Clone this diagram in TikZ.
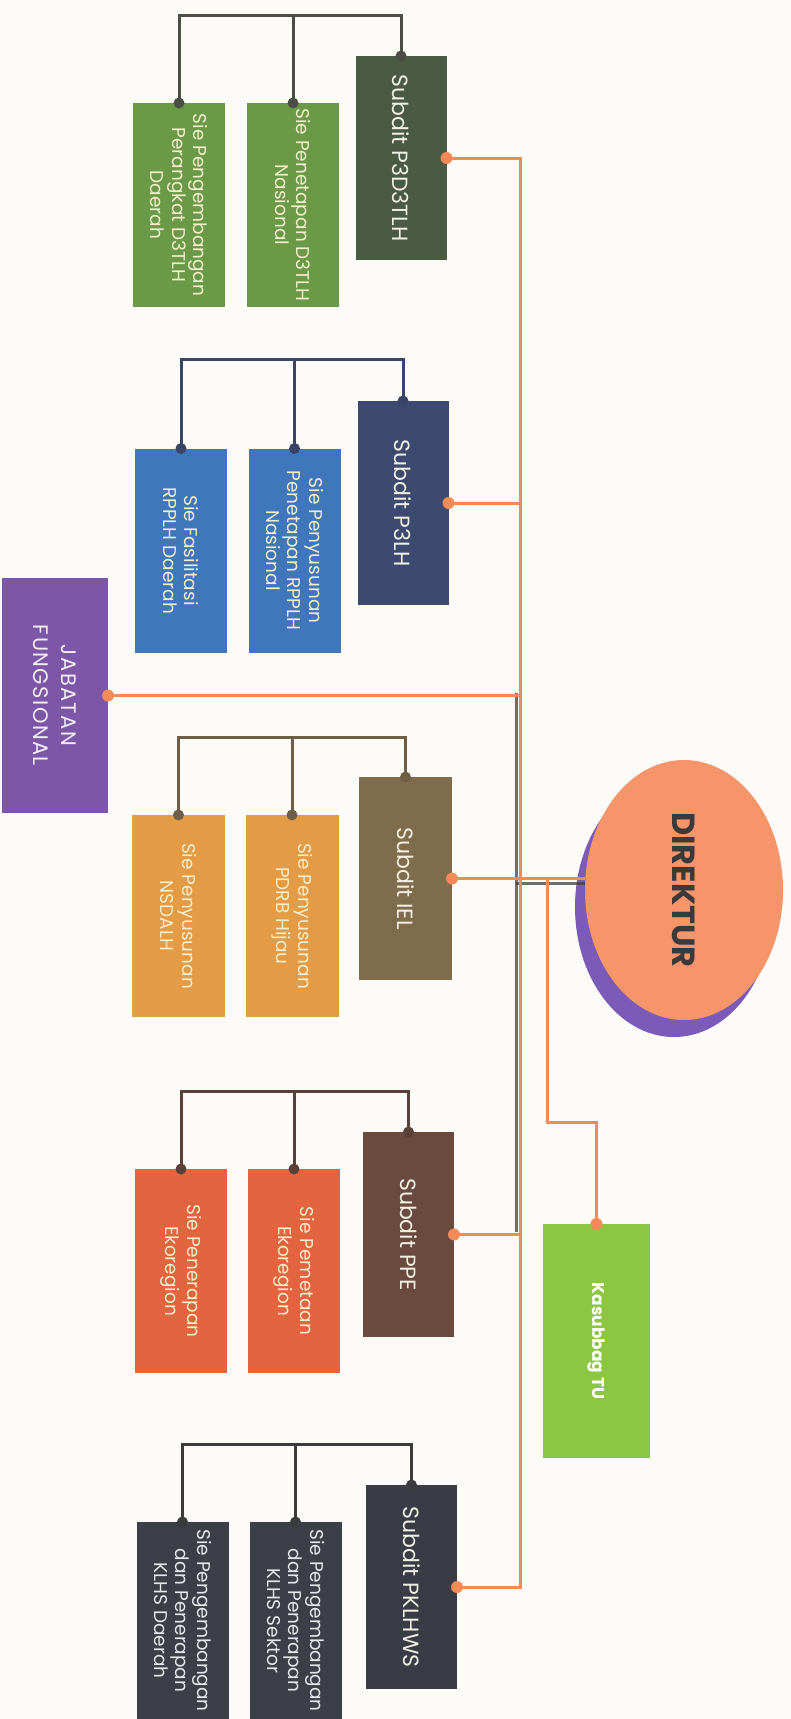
\documentclass[tikz,border=0pt]{standalone}
\usepackage{fontspec}
\setmainfont{Poppins}
\usetikzlibrary{shapes.geometric}
\definecolor{bg}{HTML}{FCFBF7}
\definecolor{oline}{HTML}{F48A57}
\definecolor{dline}{HTML}{3E4046}
\definecolor{cream}{HTML}{F3EECB}
\definecolor{subtext}{HTML}{F2EFE4}
\definecolor{gA}{HTML}{6A9A48}\definecolor{sA}{HTML}{4B5A43}\definecolor{lA}{HTML}{4A4E44}
\definecolor{gB}{HTML}{3F76BC}\definecolor{sB}{HTML}{3B4A6E}\definecolor{lB}{HTML}{3A4466}
\definecolor{gC}{HTML}{E49B45}\definecolor{sC}{HTML}{7F6C4D}\definecolor{lC}{HTML}{6E5E47}
\definecolor{gD}{HTML}{E2653F}\definecolor{sD}{HTML}{6A4A3E}\definecolor{lD}{HTML}{5A4038}
\definecolor{gE}{HTML}{3C3E48}\definecolor{sE}{HTML}{3A3C45}\definecolor{lE}{HTML}{3B3B3E}
\definecolor{jfc}{HTML}{7E56A8}
\definecolor{kasc}{HTML}{8DC641}
\definecolor{dirc}{HTML}{F7956A}
\definecolor{dirsh}{HTML}{7B5AB8}
\definecolor{dirtext}{HTML}{3A3A3C}
\begin{document}
\begin{tikzpicture}[x=1pt,y=-1pt,
  box/.style={rotate=-90, inner sep=0pt, outer sep=0pt, align=center},
  siebox/.style={box, minimum width=204pt, minimum height=92pt, font=\fontsize{18.5}{21.5}\selectfont, text=cream},
  subbox/.style={box, minimum width=204pt, minimum height=91pt, font=\fontsize{22}{26}\selectfont, text=subtext},
  oconn/.style={draw=oline, line width=3pt},
  gconn/.style={line width=3pt},
  dconn/.style={draw=dline, line width=3pt, opacity=0.75}
]
\useasboundingbox (0,0) rectangle (791,1719);
\fill[bg] (0,0) rectangle (791,1719);

% ---------- Group 1 : P3D3TLH
\node[siebox, fill=gA] (s1a) at (179,205) {Sie Pengembangan\\Perangkat D3TLH\\Daerah};
\node[siebox, fill=gA] (s1b) at (293,205) {Sie Penetapan D3TLH\\Nasional};
\node[subbox, fill=sA] (sub1) at (401,158) {Subdit P3D3TLH};
\coordinate (t1) at (401,15);
% ---------- Group 2 : P3LH
\node[siebox, fill=gB] (s2a) at (181,550.5) {Sie Fasilitasi\\RPPLH Daerah};
\node[siebox, fill=gB] (s2b) at (294.5,550.5) {Sie Penyusunan\\Penetapan RPPLH\\Nasional};
\node[subbox, fill=sB] (sub2) at (403,503) {Subdit P3LH};
\coordinate (t2) at (403,359);
% ---------- Jabatan Fungsional
\node[box, fill=jfc, minimum width=235pt, minimum height=106pt, text=white!90!jfc,
      font=\fontsize{21}{28}\selectfont\addfontfeature{LetterSpace=7}] (jf) at (55,695.5) {JABATAN\\FUNGSIONAL};
% ---------- Group 3 : IEL
\node[siebox, fill=gC, minimum width=202pt, minimum height=93pt] (s3a) at (178.5,916) {Sie Penyusunan\\NSDALH};
\node[siebox, fill=gC, minimum width=202pt, minimum height=93pt] (s3b) at (292,916) {Sie Penyusunan\\PDRB Hijau};
\node[subbox, fill=sC, minimum width=203pt, minimum height=93pt] (sub3) at (405.5,878.5) {Subdit IEL};
\coordinate (t3) at (405.5,737);
% ---------- Group 4 : PPE
\node[siebox, fill=gD] (s4a) at (181,1271) {Sie Penerapan\\Ekoregion};
\node[siebox, fill=gD] (s4b) at (294,1271) {Sie Pemetaan\\Ekoregion};
\node[subbox, fill=sD, minimum width=205pt] (sub4) at (408.5,1234.5) {Subdit PPE};
\coordinate (t4) at (408.5,1091);
% ---------- Kasubbag TU
\node[box, fill=kasc, minimum width=234pt, minimum height=107pt, text=white,
      font=\bfseries\fontsize{17}{21}\selectfont] (kas) at (596.5,1341) {Kasubbag TU};
% ---------- Group 5 : PKLHWS
\node[siebox, fill=gE, minimum width=197pt, text=white!88!gE] (s5a) at (182.5,1620.5) {Sie Pengembangan\\dan Penerapan\\KLHS Daerah};
\node[siebox, fill=gE, minimum width=197pt, text=white!88!gE] (s5b) at (295.5,1620.5) {Sie Pengembangan\\dan Penerapan\\KLHS Sektor};
\node[subbox, fill=sE] (sub5) at (411.5,1587) {Subdit PKLHWS};
\coordinate (t5) at (411.5,1444);

% ---------- group connectors
\draw[gconn, draw=lA] (sub1.west) -- (t1) -| (s1a.west);
\draw[gconn, draw=lA] (s1b.west) -- (s1b.west |- t1);
\draw[gconn, draw=lB] (sub2.west) -- (t2) -| (s2a.west);
\draw[gconn, draw=lB] (s2b.west) -- (s2b.west |- t2);
\draw[gconn, draw=lC] (sub3.west) -- (t3) -| (s3a.west);
\draw[gconn, draw=lC] (s3b.west) -- (s3b.west |- t3);
\draw[gconn, draw=lD] (sub4.west) -- (t4) -| (s4a.west);
\draw[gconn, draw=lD] (s4b.west) -- (s4b.west |- t4);
\draw[gconn, draw=lE] (sub5.west) -- (t5) -| (s5a.west);
\draw[gconn, draw=lE] (s5b.west) -- (s5b.west |- t5);
\foreach \n/\c in {sub1/lA,s1a/lA,s1b/lA,sub2/lB,s2a/lB,s2b/lB,sub3/lC,s3a/lC,s3b/lC,sub4/lD,s4a/lD,s4b/lD,sub5/lE,s5a/lE,s5b/lE}
  \fill[\c] (\n.west) circle (5.5pt);

% ---------- Direktur shadow and ellipse
\node[ellipse, fill=dirsh, minimum width=198pt, minimum height=260pt, inner sep=0pt] (dirs) at (674,907) {};

% ---------- dark backbone
\coordinate (d1) at (516,693);
\coordinate (d2) at (516,1232);
\coordinate (d3) at (516,883);
\draw[dconn] (d1) -- (d2);
\draw[dconn] (d3) -- (d3 -| dirs.west) -- ++(14,0);

% ---------- orange trunk
\coordinate (tr) at (520,158);
\coordinate (trb) at (520,1587);
\draw[oconn] (sub1.north) -- (tr) -- (trb) -- (sub5.north);
\draw[oconn] (sub2.north) -- (sub2.north -| tr);
\draw[oconn] (jf.north) -- (jf.north -| tr);
\draw[oconn] (sub4.north) -- (sub4.north -| tr);

\node[ellipse, rotate=-90, fill=dirc, minimum width=260pt, minimum height=198pt, inner sep=0pt,
      font=\bfseries\fontsize{32}{34}\selectfont, text=dirtext] (dir) at (684,890) {DIREKTUR};
\draw[oconn] (sub3.north) -- (sub3.north -| dir.south);
\coordinate (kj) at (547,878.5);
\coordinate (kb) at (547,1122);
\draw[oconn] (kj) -- (kb) -| (kas.west);

\foreach \n in {sub1.north,sub2.north,jf.north,sub3.north,sub4.north,sub5.north,kas.west}
  \fill[oline] (\n) circle (6pt);
\end{tikzpicture}
\end{document}
